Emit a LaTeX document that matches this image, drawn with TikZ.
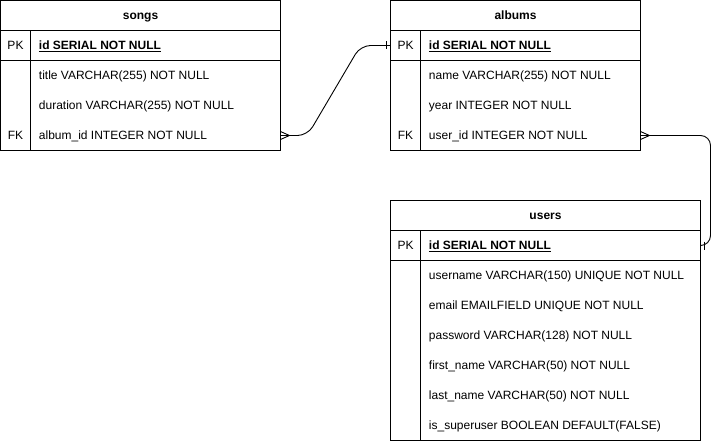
\documentclass[tikz,border=0pt]{standalone}
\usepackage{fontspec}
\setmainfont{Liberation Sans}
\usepackage{tikz}
\usetikzlibrary{calc}
\usetikzlibrary{positioning}
\tikzstyle{tablehead} = [draw, rectangle, anchor=north west, inner sep=0pt, outer sep=0pt,
minimum height=30pt, text height=8.6pt, text depth=0pt, font=\fontsize{12}{14}\selectfont\bfseries]
\tikzstyle{keyrow} = [draw, rectangle, inner sep=0pt, outer sep=0pt, minimum height=30pt]
\tikzstyle{bodyrow} = [draw, rectangle, inner sep=0pt, outer sep=0pt]
\tikzstyle{keytag} = [inner sep=0pt, text height=8.6pt, text depth=0pt, font=\fontsize{12}{14}\selectfont]
\tikzstyle{field} = [anchor=west, inner sep=0pt, text height=8.6pt, text depth=0pt, font=\fontsize{12}{14}\selectfont]
\tikzstyle{keyfield} = [field, font=\fontsize{12}{14}\selectfont\bfseries]
\tikzstyle{relation} = [line width=0.9pt, rounded corners=10pt]

\begin{document}
\begin{tikzpicture}[x=1pt, y=-1pt, line width=0.9pt]
	\useasboundingbox (0,0) rectangle (720,441);

	% songs
	\node [tablehead, minimum width=280pt] (songs) at (0.5,0.5) {songs};
	\node [keyrow, minimum width=280pt, below=0pt of songs] (songsPK) {};
	\node [bodyrow, minimum width=280pt, minimum height=90pt, below=0pt of songsPK] (songsBody) {};
	\draw ($(songsPK.north west)+(30,0)$) -- ($(songsBody.south west)+(30,0)$);
	\node [keytag] (songsPKtag) at ($(songsPK.west)+(15,0)$) {PK};
	\node [keyfield] (songsId) at ($(songsPK.west)+(38,0)$) {\underline{id SERIAL NOT NULL}};
	\foreach \txt [count=\i] in {title VARCHAR(255) NOT NULL, duration VARCHAR(255) NOT NULL, album\_id INTEGER NOT NULL}
		\node [field] (songsF\i) at ($(songsBody.north west)+(38,30*\i-15)$) {\txt};
	\node [keytag] (songsFKtag) at ($(songsBody.west |- songsF3)+(15,0)$) {FK};

	% albums
	\node [tablehead, minimum width=250pt] (albums) at (390.5,0.5) {albums};
	\node [keyrow, minimum width=250pt, below=0pt of albums] (albumsPK) {};
	\node [bodyrow, minimum width=250pt, minimum height=90pt, below=0pt of albumsPK] (albumsBody) {};
	\draw ($(albumsPK.north west)+(30,0)$) -- ($(albumsBody.south west)+(30,0)$);
	\node [keytag] (albumsPKtag) at ($(albumsPK.west)+(15,0)$) {PK};
	\node [keyfield] (albumsId) at ($(albumsPK.west)+(38,0)$) {\underline{id SERIAL NOT NULL}};
	\foreach \txt [count=\i] in {name VARCHAR(255) NOT NULL, year INTEGER NOT NULL, user\_id INTEGER NOT NULL}
		\node [field] (albumsF\i) at ($(albumsBody.north west)+(38,30*\i-15)$) {\txt};
	\node [keytag] (albumsFKtag) at ($(albumsBody.west |- albumsF3)+(15,0)$) {FK};

	% users
	\node [tablehead, minimum width=310pt] (users) at (390.5,200.5) {users};
	\node [keyrow, minimum width=310pt, below=0pt of users] (usersPK) {};
	\node [bodyrow, minimum width=310pt, minimum height=180pt, below=0pt of usersPK] (usersBody) {};
	\draw ($(usersPK.north west)+(30,0)$) -- ($(usersBody.south west)+(30,0)$);
	\node [keytag] (usersPKtag) at ($(usersPK.west)+(15,0)$) {PK};
	\node [keyfield] (usersId) at ($(usersPK.west)+(38,0)$) {\underline{id SERIAL NOT NULL}};
	\foreach \txt [count=\i] in {username VARCHAR(150) UNIQUE NOT NULL, email EMAILFIELD UNIQUE NOT NULL,
		password VARCHAR(128) NOT NULL, first\_name VARCHAR(50) NOT NULL, last\_name VARCHAR(50) NOT NULL,
		is\_superuser BOOLEAN DEFAULT(FALSE)}
		\node [field] (usersF\i) at ($(usersBody.north west)+(38,30*\i-15)$) {\txt};

	% songs.album_id -> albums.id
	\coordinate (songsFK) at (songsBody.east |- songsF3);
	\draw [relation] (songsFK) -- ++(27,0) -- ($(albumsPK.west)+(-30,0)$) -- (albumsPK.west);
	\draw (songsFK) ++(0,-4) -- ++(9,4) -- ++(-9,4);
	\draw ($(albumsPK.west)+(-4,-4)$) -- ++(0,8);

	% albums.user_id -> users.id
	\coordinate (albumsFK) at (albumsBody.east |- albumsF3);
	\draw [relation] (albumsFK) -- ++(70,0) |- (usersPK.east);
	\draw (albumsFK) ++(0,-4) -- ++(9,4) -- ++(-9,4);
	\draw ($(usersPK.east)+(4,-4)$) -- ++(0,8);
\end{tikzpicture}
\end{document}
